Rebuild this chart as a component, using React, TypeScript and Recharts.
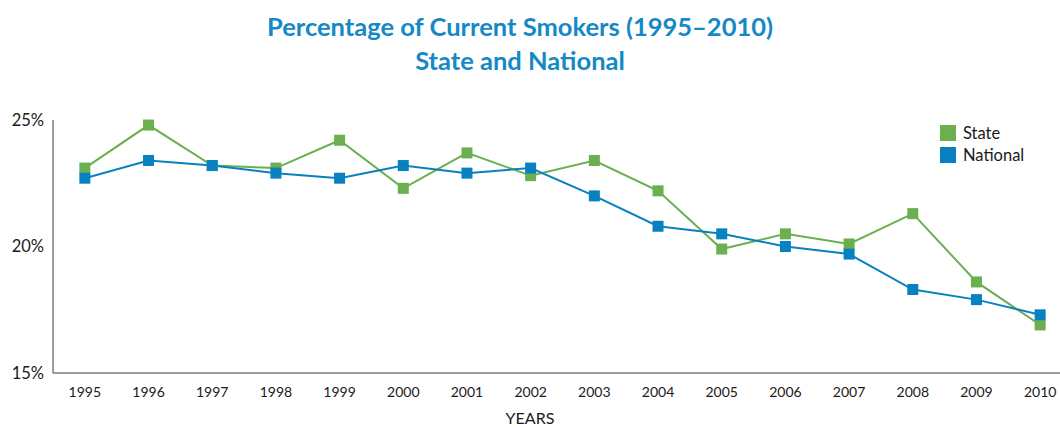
import React from 'react';
import { LineChart, Line, XAxis, YAxis, Legend } from 'recharts';

// Survey years and smoking rates (%)
const years = [1995, 1996, 1997, 1998, 1999, 2000, 2001, 2002, 2003, 2004, 2005, 2006, 2007, 2008, 2009, 2010];
const stateRates = [23.1, 24.8, 23.2, 23.1, 24.2, 22.3, 23.7, 22.8, 23.4, 22.2, 19.9, 20.5, 20.1, 21.3, 18.6, 16.9];
const nationalRates = [22.7, 23.4, 23.2, 22.9, 22.7, 23.2, 22.9, 23.1, 22.0, 20.8, 20.5, 20.0, 19.7, 18.3, 17.9, 17.3];
const seriesNames = ['State', 'National'];

// Axis ticks
const percentTicks = [15, 20, 25];
const innerPercentTicks = [20, 25];
const yearBoundaryTicks = [1995.5, 1996.5, 1997.5, 1998.5, 1999.5, 2000.5, 2001.5, 2002.5, 2003.5, 2004.5, 2005.5, 2006.5, 2007.5, 2008.5, 2009.5];

const STATE_COLOR = '#6ab04f';
const NATIONAL_COLOR = '#0881c0';
const TITLE_COLOR = '#1588c6';
const AXIS_COLOR = '#7b7b7b';
const FONT = 'Lato, "Open Sans", sans-serif';

const data = years.map((year, i) => ({
  year,
  state: stateRates[i],
  national: nationalRates[i],
}));

const squareDot = (color: string) => (props: any) => {
  const { cx, cy, index } = props;
  if (cx == null || cy == null) return <g key={`d-${index}`} />;
  return <rect key={`d-${index}`} x={cx - 5.5} y={cy - 5.5} width={11} height={11} fill={color} />;
};

// Legend keeps the series order (State first, then National)
const renderLegend = (props: any) => {
  const items = [...(props.payload || [])].sort(
    (a: any, b: any) => seriesNames.indexOf(a.value) - seriesNames.indexOf(b.value)
  );
  return (
    <div style={{ fontFamily: FONT, fontSize: 16.5, color: '#1a1a1a' }}>
      {items.map((entry: any) => (
        <div key={entry.value} style={{ display: 'flex', alignItems: 'center', height: 22 }}>
          <span style={{ display: 'inline-block', width: 16, height: 16, background: entry.color, marginRight: 7 }} />
          <span style={{ lineHeight: '16px' }}>{entry.value}</span>
        </div>
      ))}
    </div>
  );
};

export default function App() {
  return (
    <div
      style={{
        position: 'fixed',
        left: 0,
        top: 0,
        width: 1060,
        height: 428,
        overflow: 'hidden',
        background: '#ffffff',
      }}
    >
      <div
        style={{
          position: 'absolute',
          left: 0,
          top: 9,
          width: 1040,
          textAlign: 'center',
          fontFamily: FONT,
          fontWeight: 700,
          fontSize: 25.5,
          lineHeight: '34px',
          color: TITLE_COLOR,
          zIndex: 2,
        }}
      >
        <div>Percentage of Current Smokers (1995–2010)</div>
        <div>State and National</div>
      </div>

      <LineChart
        width={1072}
        height={403}
        data={data}
        margin={{ top: 120, right: 0, bottom: 0, left: 0 }}
        style={{ fontFamily: FONT }}
      >
        <XAxis
          xAxisId="main"
          dataKey="year"
          type="number"
          domain={[1994.5, 2010.5]}
          ticks={years}
          height={30}
          tickLine={false}
          tickSize={0}
          tickMargin={14}
          axisLine={{ stroke: AXIS_COLOR, strokeWidth: 1.5 }}
          tick={{ fill: '#1a1a1a', fontSize: 14 }}
          interval={0}
        />
        <XAxis
          xAxisId="marks"
          dataKey="year"
          type="number"
          domain={[1994.5, 2010.5]}
          ticks={yearBoundaryTicks}
          height={0}
          mirror
          axisLine={false}
          tickSize={6}
          tickLine={{ stroke: AXIS_COLOR, strokeWidth: 1.5 }}
          tickFormatter={() => ''}
          interval={0}
        />
        <YAxis
          yAxisId="main"
          domain={[15, 25]}
          ticks={percentTicks}
          width={53}
          tickLine={false}
          tickSize={0}
          tickMargin={9}
          axisLine={{ stroke: AXIS_COLOR, strokeWidth: 1.5 }}
          tick={{ fill: '#1a1a1a', fontSize: 16.5 }}
          tickFormatter={(v: number) => `${v}%`}
          interval={0}
        />
        <YAxis
          yAxisId="marks"
          domain={[15, 25]}
          ticks={innerPercentTicks}
          width={0}
          mirror
          axisLine={false}
          tickSize={11}
          tickLine={{ stroke: AXIS_COLOR, strokeWidth: 1.5 }}
          tickFormatter={() => ''}
          interval={0}
        />
        <Legend
          layout="vertical"
          align="center"
          verticalAlign="middle"
          content={renderLegend}
          wrapperStyle={{ position: 'absolute', left: 940, top: 122, width: 120, height: 50 }}
        />
        <Line
          xAxisId="main"
          yAxisId="main"
          name="State"
          dataKey="state"
          type="linear"
          stroke={STATE_COLOR}
          strokeWidth={2}
          dot={squareDot(STATE_COLOR)}
          activeDot={false}
          isAnimationActive={false}
        />
        <Line
          xAxisId="main"
          yAxisId="main"
          name="National"
          dataKey="national"
          type="linear"
          stroke={NATIONAL_COLOR}
          strokeWidth={2}
          dot={squareDot(NATIONAL_COLOR)}
          activeDot={false}
          isAnimationActive={false}
        />
      </LineChart>

      <div
        style={{
          position: 'absolute',
          left: 480,
          top: 410,
          width: 100,
          textAlign: 'center',
          fontFamily: FONT,
          fontSize: 16,
          lineHeight: '16px',
          color: '#1a1a1a',
        }}
      >
        YEARS
      </div>
    </div>
  );
}
